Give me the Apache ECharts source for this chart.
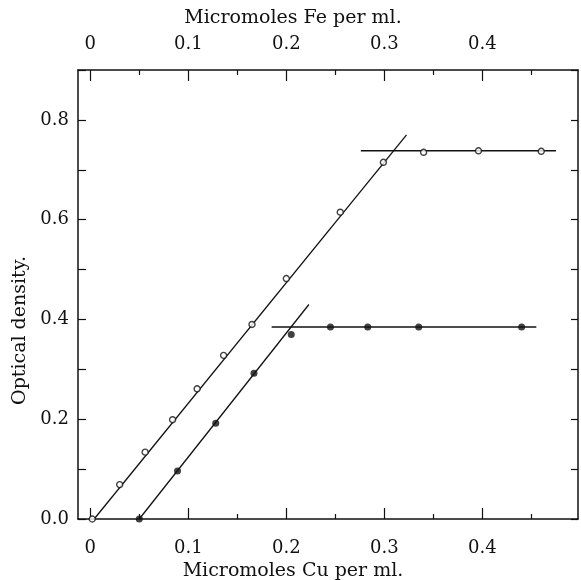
<!DOCTYPE html>
<html>
<head>
<meta charset="utf-8">
<script src="https://cdn.jsdelivr.net/npm/echarts@6/dist/echarts.min.js"></script>
<style>
  html, body { margin: 0; padding: 0; background: #fff; }
  #main { width: 581px; height: 580px; }
</style>
</head>
<body>
<div id="main"></div>
<script>
// tick positions (same scale on Cu and Fe axes)
var majorX = [0, 0.1, 0.2, 0.3, 0.4];
var minorX = [0.05, 0.15, 0.25, 0.35, 0.45];
var yLabels = [0, 0.2, 0.4, 0.6, 0.8];

// open circles
var openX = [0.002, 0.030, 0.056, 0.084, 0.109, 0.136, 0.165, 0.200, 0.255, 0.299, 0.340, 0.396, 0.460];
var openY = [0.0, 0.069, 0.134, 0.199, 0.261, 0.328, 0.390, 0.482, 0.615, 0.715, 0.735, 0.738, 0.737];
// filled circles
var filledX = [0.050, 0.089, 0.128, 0.167, 0.205, 0.245, 0.283, 0.335, 0.440];
var filledY = [0.0, 0.096, 0.192, 0.292, 0.370, 0.385, 0.385, 0.385, 0.385];

// drawn straight lines (end points)
var openRise = [[0.004, 0.0], [0.3226, 0.770]];
var openFlat = [[0.276, 0.738], [0.475, 0.738]];
var filledRise = [[0.050, 0.0], [0.223, 0.430]];
var filledFlat = [[0.185, 0.385], [0.455, 0.385]];

var chart = echarts.init(document.getElementById('main'));
var font = 'DejaVu Serif';
var ink = '#111';
var xMin = -0.0125, xMax = 0.4975;

function zip(xs, ys) {
  return xs.map(function (x, i) { return [x, ys[i]]; });
}
function fmtX(v) { return v === 0 ? '0' : String(v); }

function xAxisDef(pos, name, ticks, len, labels) {
  return {
    type: 'value', position: pos, min: xMin, max: xMax,
    name: name,
    nameLocation: 'middle',
    nameGap: pos === 'top' ? 42 : 41,
    nameTextStyle: { fontFamily: font, fontSize: 19, color: ink, padding: [0, 70, 0, 0] },
    axisLine: { show: !!name, onZero: false, lineStyle: { color: ink, width: 1.5 } },
    axisTick: { show: true, inside: true, length: len, customValues: ticks, lineStyle: { color: ink, width: 1.2 } },
    axisLabel: labels ? { show: true, customValues: ticks, margin: pos === 'top' ? 17 : 20, formatter: fmtX,
      fontFamily: font, fontSize: 18, color: ink } : { show: false },
    splitLine: { show: false }
  };
}

var option = {
  backgroundColor: '#ffffff',
  animation: false,
  grid: { left: 78, right: 3, top: 70, bottom: 61, containLabel: false, outerBoundsMode: 'none' },
  xAxis: [
    xAxisDef('bottom', 'Micromoles Cu per ml.', majorX, 11, true),
    xAxisDef('top', 'Micromoles Fe per ml.', majorX, 11, true),
    xAxisDef('bottom', '', minorX, 5, false),
    xAxisDef('top', '', minorX, 5, false)
  ],
  yAxis: [
    {
      type: 'value', position: 'left', min: 0, max: 0.9, interval: 0.1,
      name: 'Optical density.',
      nameLocation: 'middle', nameGap: 38,
      nameTextStyle: { fontFamily: font, fontSize: 19, color: ink, padding: [0, 72, 0, 0] },
      axisLine: { show: true, onZero: false, lineStyle: { color: ink, width: 1.5 } },
      axisTick: { show: true, inside: true, length: 8, lineStyle: { color: ink, width: 1.2 } },
      axisLabel: { show: true, customValues: yLabels, margin: 9,
        formatter: function (v) { return v.toFixed(1); },
        fontFamily: font, fontSize: 18, color: ink },
      splitLine: { show: false }
    },
    {
      type: 'value', position: 'right', min: 0, max: 0.9, interval: 0.1,
      axisLine: { show: true, onZero: false, lineStyle: { color: ink, width: 1.5 } },
      axisTick: { show: true, inside: true, length: 7, lineStyle: { color: ink, width: 1.2 } },
      axisLabel: { show: false },
      splitLine: { show: false }
    }
  ],
  series: [
    { type: 'line', xAxisIndex: 1, data: openRise, symbol: 'none', lineStyle: { color: ink, width: 1.3 } },
    { type: 'line', xAxisIndex: 1, data: openFlat, symbol: 'none', lineStyle: { color: ink, width: 1.6 } },
    { type: 'line', xAxisIndex: 0, data: filledRise, symbol: 'none', lineStyle: { color: ink, width: 1.3 } },
    { type: 'line', xAxisIndex: 0, data: filledFlat, symbol: 'none', lineStyle: { color: ink, width: 1.6 } },
    {
      type: 'scatter', xAxisIndex: 1, data: zip(openX, openY), symbol: 'circle', symbolSize: 6,
      itemStyle: { color: '#fff', borderColor: ink, borderWidth: 1.4 }, z: 5
    },
    {
      type: 'scatter', xAxisIndex: 0, data: zip(filledX, filledY), symbol: 'circle', symbolSize: 7,
      itemStyle: { color: ink }, z: 5
    }
  ]
};

chart.setOption(option);
</script>
</body>
</html>
